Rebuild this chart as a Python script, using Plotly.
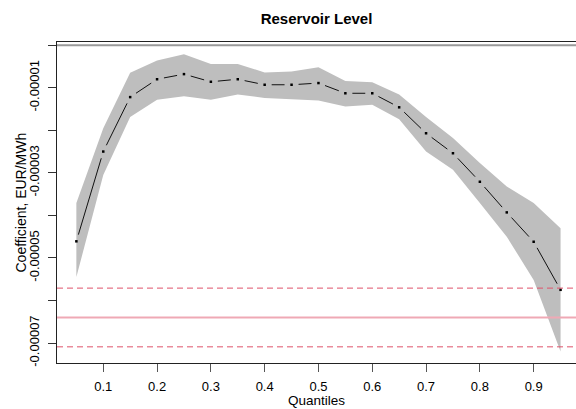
import plotly.graph_objects as go

# Quantile regression estimates for the reservoir level coefficient
quantiles = [0.05, 0.10, 0.15, 0.20, 0.25, 0.30, 0.35, 0.40, 0.45, 0.50,
             0.55, 0.60, 0.65, 0.70, 0.75, 0.80, 0.85, 0.90, 0.95]
coef = [-4.61e-5, -2.50e-5, -1.22e-5, -0.80e-5, -0.68e-5, -0.86e-5, -0.80e-5,
        -0.93e-5, -0.93e-5, -0.89e-5, -1.13e-5, -1.13e-5, -1.46e-5, -2.07e-5,
        -2.54e-5, -3.21e-5, -3.93e-5, -4.62e-5, -5.75e-5]
ci_upper = [-3.71e-5, -1.95e-5, -0.65e-5, -0.36e-5, -0.21e-5, -0.44e-5, -0.44e-5,
            -0.64e-5, -0.62e-5, -0.52e-5, -0.84e-5, -0.87e-5, -1.16e-5, -1.69e-5,
            -2.18e-5, -2.77e-5, -3.32e-5, -3.71e-5, -4.30e-5]
ci_lower = [-5.45e-5, -3.05e-5, -1.69e-5, -1.28e-5, -1.20e-5, -1.28e-5, -1.16e-5,
            -1.24e-5, -1.27e-5, -1.30e-5, -1.44e-5, -1.40e-5, -1.74e-5, -2.50e-5,
            -2.93e-5, -3.71e-5, -4.50e-5, -5.52e-5, -7.20e-5]

# OLS estimate with its confidence bounds
ols_coef = -6.40e-5
ols_lo = -7.09e-5
ols_hi = -5.71e-5

y_ticks = [0, -1e-5, -2e-5, -3e-5, -4e-5, -5e-5, -6e-5, -7e-5]
y_ticktext = ["", "-0.00001", "", "-0.00003", "", "-0.00005", "", "-0.00007"]
x_ticks = [0.1, 0.2, 0.3, 0.4, 0.5, 0.6, 0.7, 0.8, 0.9]
x_ticktext = ["0.1", "0.2", "0.3", "0.4", "0.5", "0.6", "0.7", "0.8", "0.9"]

W, H = 576, 409
margin = dict(l=57, r=0, t=42, b=46)
x_range = [0.014, 0.9787]
y_range = [-7.47e-5, 0.075e-5]

FONT = "Liberation Sans, Arial, sans-serif"
RED = "#DF536B"

# pixel scale of the plotting region, used to leave small gaps around the points
plot_w = W - margin["l"] - margin["r"]
plot_h = H - margin["t"] - margin["b"]
sx = plot_w / (x_range[1] - x_range[0])
sy = plot_h / (y_range[1] - y_range[0])
gap = 7.0

seg_x, seg_y = [], []
for i in range(len(quantiles) - 1):
    x0, y0, x1, y1 = quantiles[i], coef[i], quantiles[i + 1], coef[i + 1]
    dx, dy = (x1 - x0) * sx, (y1 - y0) * sy
    length = (dx * dx + dy * dy) ** 0.5
    if length <= 2 * gap:
        continue
    f = gap / length
    seg_x += [x0 + (x1 - x0) * f, x1 - (x1 - x0) * f, None]
    seg_y += [y0 + (y1 - y0) * f, y1 - (y1 - y0) * f, None]

fig = go.Figure()

# confidence band
fig.add_trace(go.Scatter(
    x=quantiles + quantiles[::-1],
    y=ci_upper + ci_lower[::-1],
    fill="toself", fillcolor="#BEBEBE",
    line=dict(width=0), mode="lines", hoverinfo="skip", showlegend=False,
))

# OLS lines
fig.add_hline(y=ols_hi, line=dict(color=RED, width=1, dash="6px,4px"))
fig.add_hline(y=ols_lo, line=dict(color=RED, width=1, dash="6px,4px"))
fig.add_hline(y=ols_coef, line=dict(color="#EFA9B5", width=2))
# zero reference
fig.add_hline(y=0, line=dict(color="#9a9a9a", width=2))

# estimate path: segments with gaps plus small point markers
fig.add_trace(go.Scatter(
    x=seg_x, y=seg_y, mode="lines",
    line=dict(color="#111111", width=1), showlegend=False, hoverinfo="skip",
))
fig.add_trace(go.Scatter(
    x=quantiles, y=coef, mode="markers",
    marker=dict(color="black", size=2.5, symbol="square"),
    showlegend=False,
))

fig.update_layout(
    width=W, height=H, margin=margin,
    paper_bgcolor="white", plot_bgcolor="white",
    font=dict(family=FONT, color="black", size=13),
    title=dict(text="<b>Reservoir Level</b>", x=0.5, xref="paper", xanchor="center",
               y=1 - 19 / H, yref="container", yanchor="middle",
               font=dict(size=15, family=FONT, color="black")),
    showlegend=False,
)
fig.update_xaxes(
    range=x_range, showgrid=False, zeroline=False,
    showline=True, linecolor="#222222", linewidth=1, mirror=True,
    ticks="outside", ticklen=8, tickcolor="#555555", tickwidth=1,
    tickvals=x_ticks, ticktext=x_ticktext, tickfont=dict(size=13),
    ticklabelstandoff=3,
)
fig.update_yaxes(
    range=y_range, showgrid=False, zeroline=False,
    showline=True, linecolor="#222222", linewidth=1, mirror=False,
    ticks="outside", ticklen=8, tickcolor="#333333", tickwidth=1,
    tickvals=y_ticks, ticktext=y_ticktext, tickangle=-90, tickfont=dict(size=13),
    ticklabelstandoff=4,
)

fig.add_annotation(text="Quantiles", x=0.5, xref="paper", y=-(409 - 363) / plot_h,
                   yref="paper", xanchor="center", yanchor="bottom", borderpad=0,
                   showarrow=False, font=dict(size=13.5, family=FONT))
fig.add_annotation(text="Coefficient, EUR/MWh", x=-(57 - 20) / plot_w, xref="paper",
                   y=0.5, yref="paper", xanchor="center", yanchor="middle",
                   textangle=-90, showarrow=False, font=dict(size=14, family=FONT))

fig.write_html("out.html")
